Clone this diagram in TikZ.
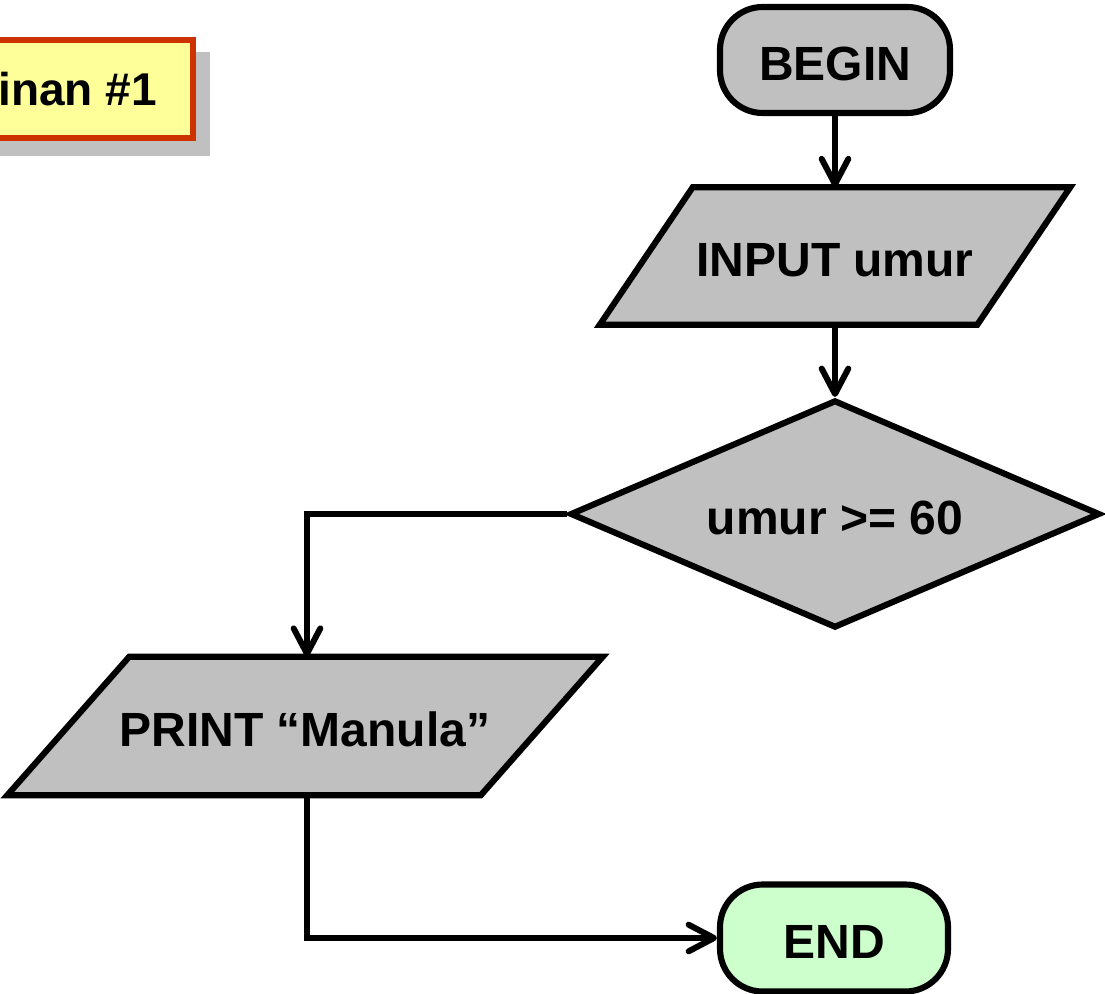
\documentclass[tikz,border=0pt]{standalone}
\usepackage{fontspec}
\setmainfont{Liberation Sans}
\usetikzlibrary{arrows.meta,shapes.geometric,calc,backgrounds}
\definecolor{boxgray}{HTML}{C0C0C0}
\definecolor{noteyellow}{HTML}{FFFF99}
\definecolor{notered}{HTML}{CC3300}
\definecolor{endgreen}{HTML}{CCFFCC}
\tikzset{
  label font/.style={font=\fontsize{36}{43}\selectfont\bfseries, text height=30.3pt, text depth=0pt},
  outline/.style={draw=black, line width=4.6pt, line join=miter},
  terminal/.style={outline, label font, fill=boxgray, rounded corners=32pt,
    minimum width=172.5pt, minimum height=79.5pt, inner sep=0pt},
  iobody/.style={label font, inner sep=0pt},
  decision/.style={outline, label font, fill=boxgray, diamond, aspect=2.32,
    minimum width=397.5pt, minimum height=171pt, inner sep=0pt},
  flow/.style={line width=4.5pt, line join=miter,
    -{Straight Barb[length=19pt,width=20pt,line width=4.5pt,line cap=round,line join=round]}},
}
\begin{document}
\begin{tikzpicture}[x=0.75pt,y=-0.75pt]
  \useasboundingbox (0,0) rectangle (1105,994);
  \clip (0,0) rectangle (1105,994);

  % note box in the upper left corner, with its drop shadow
  \fill[boxgray] (0,52) rectangle (210,156);
  \filldraw[fill=noteyellow, draw=notered, line width=4pt] (-20,40) rectangle (193,138);
  \node[font=\fontsize{34.5}{41}\selectfont\bfseries, inner sep=0pt, anchor=base east] (note) at (157,106) {inan \#1};

  % start
  \node[terminal] (begin) at (835,60) {BEGIN};

  % input
  \node[iobody, minimum width=282.75pt, minimum height=102.75pt] (input) at (835,256) {INPUT umur};

  % condition
  \node[decision] (cond) at (835,514) {umur >= 60};

  % output
  \node[iobody, minimum width=354.75pt, minimum height=103.5pt] (print) at (305,726) {PRINT “Manula”};

  % end
  \node[terminal, fill=endgreen, minimum width=171pt, minimum height=80.25pt] (end) at (834,938) {END};

  % slanted outlines of the input/output boxes
  \begin{scope}[on background layer]
    \filldraw[outline, fill=boxgray]
      ($(input.north west)+(46.5,0)$) -- ($(input.north east)+(46.5,0)$)
      -- ($(input.south east)+(-46.5,0)$) -- ($(input.south west)+(-46.5,0)$) -- cycle;
    \filldraw[outline, fill=boxgray]
      ($(print.north west)+(61,0)$) -- ($(print.north east)+(61,0)$)
      -- ($(print.south east)+(-61,0)$) -- ($(print.south west)+(-61,0)$) -- cycle;
  \end{scope}

  % connectors
  \draw[flow] (begin.south) -- (input.north);
  \draw[flow] (input.south) -- (cond.north);
  \draw[flow] (cond.west) -| ($(print.north)+(2,0)$);
  \draw[flow] ($(print.south)+(2,0)$) |- (end.west);
\end{tikzpicture}
\end{document}
